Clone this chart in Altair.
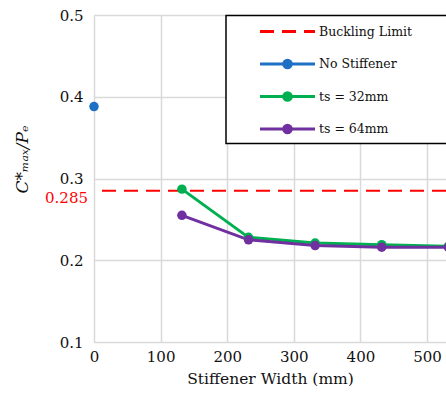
import altair as alt
import pandas as pd

series_names = ["No Stiffener", "ts = 32mm", "ts = 64mm"]
series_colors = ["#1f6fc5", "#00b050", "#7030a0"]
limit_name = ["Buckling Limit"]
limit_color = "#ff0000"

no_stiff_x = [0]
no_stiff_y = [0.388]

widths = [132, 232, 332, 432, 532]
ts32_y = [0.287, 0.228, 0.221, 0.219, 0.217]
ts64_y = [0.255, 0.225, 0.218, 0.216, 0.216]

buckling_limit = 0.285
buckling_label = ["0.285"]

x_ticks = [0, 100, 200, 300, 400, 500]
y_ticks = [0.1, 0.2, 0.3, 0.4, 0.5]

rows = []
for x, y in zip(no_stiff_x, no_stiff_y):
    rows.append({"series": "No Stiffener", "width": x, "value": y})
for x, y in zip(widths, ts32_y):
    rows.append({"series": "ts = 32mm", "width": x, "value": y})
for x, y in zip(widths, ts64_y):
    rows.append({"series": "ts = 64mm", "width": x, "value": y})
df = pd.DataFrame(rows)
limit_df = pd.DataFrame({"limit": limit_name, "value": [buckling_limit], "label": buckling_label})

FONT = "DejaVu Serif"
TXT = "#111"

circle_path = "M-2.75,0H2.75M-0.38,0A0.38,0.38,0,1,1,0.38,0A0.38,0.38,0,1,1,-0.38,0Z"
dash_path = "M-2.75,0H2.75"

common_leg = dict(
    orient="none", symbolSize=400, symbolStrokeWidth=3, symbolOffset=43,
    labelOffset=20, rowPadding=10.5, padding=0, title=None,
    labelFont=FONT, labelFontSize=12.5, labelColor=TXT, labelLimit=600,
)

legend_a = alt.Legend(legendX=139, legendY=37.5, zindex=1, symbolType=circle_path, **common_leg)
legend_b = alt.Legend(legendX=139, legendY=5, zindex=5, symbolType=dash_path,
                      symbolStrokeColor=limit_color, symbolDash=[10, 7], **common_leg)

color = alt.Color("series:N", scale=alt.Scale(domain=series_names, range=series_colors), legend=legend_a)

xscale = alt.Scale(domain=[0, 528.5], nice=False, zero=False)
yscale = alt.Scale(domain=[0.1, 0.5], nice=False, zero=False)

xaxis = alt.Axis(values=x_ticks, title="Stiffener Width (mm)", grid=True, gridColor="#d9d9d9", gridWidth=1.5,
                 domain=False, ticks=False, labelPadding=7, labelFlush=False, labelFont=FONT, labelFontSize=15,
                 labelColor=TXT, titleFont=FONT, titleFontSize=15.5, titleFontWeight="normal", titleColor=TXT,
                 titlePadding=7)
yaxis = alt.Axis(values=y_ticks, format=".1f", title="C*ₘₐₓ/Pₑ", grid=True, gridColor="#d9d9d9", gridWidth=1.5,
                 domain=False, ticks=False, labelPadding=11, labelFlush=False, labelFont=FONT, labelFontSize=15,
                 labelColor=TXT, titleFont=FONT, titleFontSize=17, titleFontStyle="italic", titleFontWeight="normal",
                 titleColor=TXT, titleX=-72, titleY=144, titleAlign="center", titleBaseline="middle", titleAngle=270)

rule = alt.Chart(limit_df).mark_rule(strokeWidth=2, color=limit_color).encode(
    y=alt.Y("value:Q", scale=yscale, axis=yaxis),
    strokeDash=alt.StrokeDash("limit:N", scale=alt.Scale(domain=limit_name, range=[[14, 8]]), legend=legend_b),
)

legend_box = alt.Chart(limit_df).mark_rect(fill="white", stroke="black", strokeWidth=1.5).encode(
    x=alt.value(132), x2=alt.value(420), y=alt.value(0.5), y2=alt.value(128.5),
)

lines = alt.Chart(df).mark_line(strokeWidth=3, point=alt.OverlayMarkDef(filled=True, size=90, opacity=1)).encode(
    x=alt.X("width:Q", scale=xscale, axis=xaxis),
    y=alt.Y("value:Q", scale=yscale, axis=yaxis),
    color=color,
)

label = alt.Chart(limit_df).mark_text(align="right", baseline="middle", dy=7, font=FONT, fontSize=15, color=limit_color).encode(
    x=alt.value(-6),
    y=alt.Y("value:Q", scale=yscale),
    text="label:N",
)

chart = alt.layer(rule, legend_box, lines, label).properties(
    width=352, height=327,
    autosize=alt.AutoSizeParams(type="none"),
    padding={"left": 94, "top": 15, "right": 0, "bottom": 57},
).configure_view(strokeWidth=0).configure(background="white")

chart.save("out.html", embed_options={"renderer": "svg", "actions": False})
